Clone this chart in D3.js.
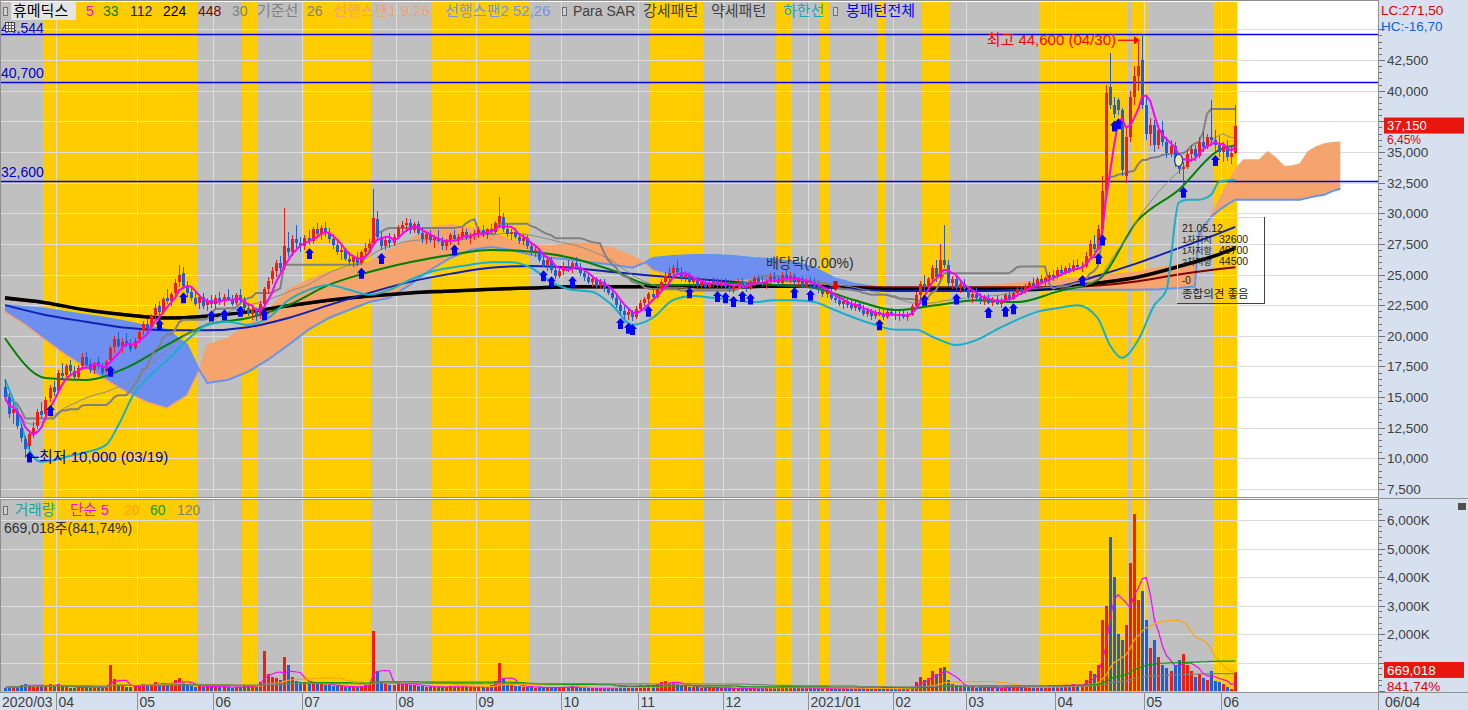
<!DOCTYPE html>
<html lang="ko">
<head>
<meta charset="UTF-8">
<title>휴메딕스 일봉</title>
<script src="https://d3js.org/d3.v7.min.js"></script>
<style>
  body { margin: 0; background: #ffffff; overflow: hidden; }
  svg { display: block; font-family: "Liberation Sans", "Noto Sans CJK KR", sans-serif; }
</style>
</head>
<body>
<script>
// ---------- data (prices in units of 100 won, volume in 1,000 shares) ----------
var monthLabels = ["2020/03","04","05","06","07","08","09","10","11","12","2021/01","02","03","04","05","06"];
var monthStart  = [0,13,33,52,74,97,117,138,157,178,199,220,238,260,282,301];
var lastDate = "06/04";

var open = [158,150,137,139,125,116,110,121,126,139,136,149,158,
155,170,168,176,171,166,175,183,177,172,179,175,171,180,191,197,192,196,193,190,
197,204,210,207,217,224,219,231,228,235,244,251,241,236,231,227,232,225,229,
226,231,228,232,230,227,233,229,223,218,221,216,226,238,246,253,259,256,272,268,279,276,
273,280,277,287,283,288,284,279,274,268,270,263,260,264,259,268,272,276,295,281,273,278,276,
281,288,290,292,286,291,284,279,283,278,280,277,273,277,282,279,281,285,280,282,
284,286,283,287,285,292,297,287,283,285,281,277,280,273,268,270,262,258,262,254,249,
253,257,255,259,256,251,248,244,246,241,244,238,235,231,225,220,217,219,215,
222,227,230,234,232,238,244,249,251,255,252,247,250,244,246,241,244,240,243,245,241,
244,240,238,241,244,241,239,243,247,244,242,245,248,246,243,250,247,249,244,246,241,
245,243,240,237,234,236,231,229,226,228,225,223,226,221,218,220,216,219,218,215,219,
217,216,218,215,217,224,233,242,240,246,255,248,262,258,243,246,239,242,
238,232,234,231,228,231,227,230,226,229,233,230,235,238,236,240,243,241,246,244,247,250,
248,254,251,255,253,258,256,257,265,275,271,287,318,403,388,392,384,330,362,395,412,425,
388,365,372,356,368,358,349,355,342,336,338,348,352,347,358,354,362,360,356,
350,355,346,349];
var high = [165,153,145,141,128,118,122,130,140,146,150,160,163,
172,178,177,180,175,176,186,187,181,179,183,178,180,192,200,203,198,202,197,198,
205,212,214,218,226,228,232,238,236,246,258,256,245,240,236,234,235,231,233,
233,236,234,238,233,235,238,232,227,224,223,228,240,248,256,262,265,304,285,282,290,281,
282,286,289,292,290,293,288,283,278,273,272,268,266,268,270,276,279,320,302,285,281,284,283,
290,294,296,295,293,294,288,285,286,282,286,281,279,284,286,283,288,287,284,286,
289,290,288,291,294,313,300,291,287,288,284,283,282,276,274,272,267,265,264,258,256,
260,262,261,264,259,254,252,249,248,246,246,242,239,234,228,224,222,221,224,
229,232,236,238,240,246,252,256,258,262,256,253,252,248,249,246,247,245,248,247,246,
247,244,243,246,247,244,245,249,250,248,246,251,252,249,252,254,252,251,248,249,247,
248,247,244,241,239,238,235,233,230,231,229,228,228,225,223,222,221,224,222,221,223,
222,220,221,219,226,236,245,250,248,258,262,275,290,262,249,250,245,246,
241,236,239,235,233,234,232,233,231,235,236,237,240,241,242,245,247,248,250,249,252,254,
256,258,257,259,262,263,260,268,278,282,290,330,405,431,395,394,386,370,400,420,440,446,
395,378,376,372,375,362,360,358,348,342,352,356,356,362,366,365,392,368,363,
358,360,354,388];
var low = [147,133,128,124,113,100,108,117,124,133,134,146,151,
153,165,166,168,164,164,172,174,170,169,173,168,170,178,186,190,186,191,187,188,
194,201,203,205,214,216,218,226,224,232,240,238,232,228,224,222,222,220,223,
222,225,224,228,224,225,227,221,216,213,212,214,224,234,242,248,250,254,264,265,272,268,
270,274,275,280,278,281,276,271,266,262,261,257,256,257,258,264,268,274,278,270,270,272,273,
279,284,285,283,284,282,276,275,276,272,276,270,270,274,277,274,278,278,275,278,
280,281,279,283,284,288,285,281,278,279,275,274,271,266,264,260,256,253,251,246,247,
250,252,251,254,249,245,242,240,239,238,236,233,229,223,217,214,213,212,214,
220,224,227,229,230,236,241,245,247,250,245,244,242,240,239,238,239,237,240,239,239,
238,236,235,238,239,236,237,241,242,240,238,243,243,241,242,245,243,242,240,239,240,
240,238,235,232,231,229,227,224,222,223,221,220,219,216,215,213,214,216,213,214,216,
213,212,214,212,216,222,230,236,237,244,244,246,255,240,238,237,235,236,
230,227,229,226,225,226,224,225,223,227,228,229,232,233,234,237,238,240,242,241,244,245,
246,249,250,251,252,254,252,255,263,268,270,285,316,385,378,380,330,325,358,388,400,385,
360,355,350,352,355,345,346,338,332,324,336,342,343,345,350,352,355,350,346,
342,343,340,348];
var close = [150,136,140,126,117,108,120,125,138,135,148,157,154,
170,167,175,171,166,174,183,176,172,178,175,170,179,190,197,192,195,193,189,196,
203,210,206,216,223,219,230,228,234,243,250,241,235,231,226,232,224,229,226,
231,228,232,230,226,233,229,223,218,221,215,226,238,245,253,259,255,273,268,279,276,273,
280,277,287,283,288,284,279,274,268,270,263,260,264,259,268,272,275,296,281,273,278,276,281,
288,290,292,286,291,284,279,283,278,280,277,273,277,282,279,281,285,280,282,284,
286,283,287,285,292,298,287,283,285,281,277,280,273,268,270,262,258,262,254,249,253,
257,255,259,256,251,248,244,246,241,244,238,235,231,225,220,217,219,215,222,
227,230,234,232,238,244,249,251,255,252,247,250,244,246,241,244,240,243,245,241,244,
240,238,241,244,241,239,243,247,244,242,245,248,246,243,250,247,249,244,246,241,245,
243,240,237,234,236,231,229,226,228,225,223,226,221,218,220,216,219,218,215,219,217,
216,218,215,217,224,233,242,240,246,255,248,262,258,243,246,239,242,238,
232,234,231,228,231,227,230,226,229,233,230,235,238,236,240,243,241,246,244,247,250,248,
254,251,255,253,258,256,257,265,275,271,287,318,398,388,381,384,335,362,395,412,420,388,
365,372,356,368,358,349,355,342,336,338,348,352,347,358,354,362,360,356,350,
355,346,349,371.5];
var volume = [120,150,180,140,200,260,220,150,180,210,160,230,170,
250,160,140,120,110,130,180,150,110,100,120,95,140,900,420,220,180,150,130,170,
200,260,180,220,300,240,280,220,260,380,450,300,200,170,150,180,140,160,150,
160,140,150,130,120,140,150,160,170,180,150,300,1400,600,500,450,380,1200,900,500,350,300,
320,280,300,250,260,220,200,180,170,160,150,140,150,140,170,200,250,2100,700,300,250,200,220,
300,260,280,220,200,180,170,150,140,130,150,140,130,160,150,140,170,150,130,140,
160,150,170,200,350,1000,450,250,200,180,160,150,140,130,120,130,120,110,120,130,110,
150,140,160,130,120,110,100,95,100,90,95,100,110,150,180,160,130,120,170,
200,180,220,170,250,300,350,280,320,260,200,170,150,140,130,120,110,120,130,110,100,
100,95,90,100,110,95,90,120,150,110,100,130,120,110,180,140,130,100,110,90,100,
110,100,95,90,100,85,90,80,85,90,80,85,90,80,75,80,85,80,75,90,85,
80,85,75,80,150,300,500,400,450,700,600,800,850,400,250,200,180,150,
150,130,120,140,110,100,120,110,100,130,120,140,160,130,150,170,140,160,150,170,200,180,
220,180,200,190,250,210,200,400,700,600,900,2500,3000,5400,4000,2000,1800,2300,4500,6200,3200,3500,
2500,1500,1800,1200,900,800,700,900,1100,1300,900,700,500,600,450,400,700,350,300,
250,150,79.48,669.018];

// long moving averages (every 10 sessions), won
var maIdx  = [0,10,20,30,40,50,60,70,80,90,100,110,120,130,140,150,160,170,180,190,200,210,220,230,240,250,260,270,280,290,300,304];
var ma33   = [19800,16550,16400,17400,19250,20900,21450,22500,24150,25200,26000,26600,27000,26850,26350,25350,24150,24150,24300,24150,23900,22900,22100,22500,22900,22750,23600,24550,29450,31900,35150,35550];
var ma112  = [22500,21700,21150,20650,20450,20450,20700,21450,22500,23500,24400,25050,25550,25700,25550,25200,24900,24650,24400,24150,24000,23800,23650,23650,23650,23750,24000,24900,25950,27150,28350,28880];
var ma224  = [23100,22700,22100,21700,21450,21600,21950,22450,22900,23250,23500,23650,23800,23900,24000,24000,24000,24000,24000,24050,24050,23900,23750,23750,23750,23750,23900,24300,24800,25650,26650,27150];
var ma448  = [23000,22650,22100,21750,21500,21650,21950,22400,22850,23200,23450,23600,23750,23850,23950,23950,23950,23950,23950,24000,24050,24000,23950,23950,23950,23950,23950,24100,24450,25000,25450,25600];

// ichimoku leading spans (already shifted 26 sessions forward), won
var cloudIdx = [0,5,10,15,20,25,30,35,40,45,48,50,55,60,65,70,75,80,85,90,95,100,105,110,115,120,125,130,135,140,145,150,155,158,160,165,170,175,180,185,190,195,200,205,210,215,220,225,230,235,240,245,250,255,260,265,270,275,280,285,290,293,294,295,298,300,302,304,306,310,312,314,316,318,320,322,324,326,328,330];
var span1 = [21950,20900,19650,18450,17400,16400,15400,14600,14100,15150,17200,19250,19800,20900,22100,23750,24550,25200,25550,26000,27000,27800,28800,29050,28800,28450,27800,27400,27350,27550,27500,27150,26500,25950,25350,24900,24700,24550,24450,24550,24400,24400,24250,24150,24050,23900,23900,23750,23750,23800,24000,24150,24300,24400,24550,24700,24900,25050,25200,25550,25800,26000,26100,27800,29850,31100,32300,33550,34350,34350,35000,34500,33800,33850,34000,35000,35400,35650,35750,35800];
var span2 = [22500,22350,22200,21950,21700,21450,21150,20800,20500,19250,17200,16150,16400,17050,18050,19250,20500,21450,22100,22750,23100,24150,25350,26350,27000,27250,27000,26600,26350,26200,26000,25800,25550,25950,26350,26500,26600,26600,26500,26350,26250,26000,25550,24700,24250,24000,23800,23800,23750,23750,23750,23750,23750,23750,23750,23750,23750,23750,23750,23800,23900,24000,24000,28400,29700,30250,30700,31100,31100,31100,31100,31100,31100,31100,31100,31250,31400,31500,31800,32000];

// 하한선 (lower band), won
var lowerIdx = [0,3,6,9,12,16,20,25,28,32,36,40,45,50,55,60,65,70,75,80,85,90,95,100,105,110,115,120,125,130,135,140,145,150,155,160,165,170,175,180,185,190,195,200,205,210,215,220,225,230,235,240,245,250,255,260,265,270,273,276,280,284,287,290,292,295,298,300,304];
var lowerVal = [16400,13950,10700,9700,9850,10200,10500,11100,12700,15350,16800,18000,19650,20900,21150,20900,21450,22900,23750,24150,23750,23350,23750,24550,25200,25550,25800,26000,26000,25550,24400,23750,23600,22500,20900,21450,22900,23250,23100,22900,22750,22900,22900,22750,22100,21450,20900,20500,20500,19800,19250,19650,20500,21300,21950,22250,22500,21450,19250,18200,19650,22500,23750,30850,31100,31100,31500,32550,32700];

// background pattern bands (yellow) as session ranges; everything else up to the last session is gray
var yellowBands = [[10,47],[59,62],[74,90],[106,129],[160,172],[191,194],[202,203],[216,217],[227,233],[256,277],[279,282],[299,304]];

// pattern markers
var bullIdx = [6,11,26,38,44,51,54,58,64,75,88,93,111,133,135,140,152,154,155,159,169,176,178,180,182,184,195,199,216,227,235,243,247,249,266,270,271,274,275,291,299];
var exDivIdx = 205;
var circleIdx = 290, circlePrice = 34300;

var levels = [44600, 40700, 32600];
var lowPoint = {idx: 5, price: 10000, date: "03/19"};
var highPoint = {idx: 281, price: 44600, date: "04/30"};
var priceTicks = [7500,10000,12500,15000,17500,20000,22500,25000,27500,30000,32500,35000,37500,40000,42500,45000];
var volTicks = [1000,2000,3000,4000,5000,6000];
var infoRows = [["21.05.12",""],["1차지지","32600"],["1차저항","40700"],["2차저항","44500"]];

// ---------- layout ----------
var W = 1468, H = 710;
var plotRight = 1378;
var priceTop = 2, priceBottom = 497, volTop = 500, volBottom = 692;
var step = 4.047;
var upColor = "#f01d10", downColor = "#1c5fd6";

var x = d3.scaleLinear().domain([0, 304]).range([5, 5 + 304 * step]);
var y = d3.scaleLinear().domain([7500, 42500]).range([489, 60]);
var yv = d3.scaleLinear().domain([0, 6000]).range([691, 520]);

var n = close.length;
var candles = d3.range(n).map(function(i) {
    return {i: i, o: open[i] * 100, h: high[i] * 100, l: low[i] * 100, c: close[i] * 100, v: volume[i]};
});
var closeW = candles.map(function(d) { return d.c; });

function movingAvg(arr, len) {
    return arr.map(function(v, i) { return d3.mean(arr.slice(Math.max(0, i - len + 1), i + 1)); });
}
function midRange(len) {
    return candles.map(function(d, i) {
        var s = candles.slice(Math.max(0, i - len + 1), i + 1);
        return (d3.max(s, function(e) { return e.h; }) + d3.min(s, function(e) { return e.l; })) / 2;
    });
}
var ma5 = movingAvg(closeW, 5);
var ma30 = movingAvg(closeW, 30);
var base26 = midRange(26);

var svg = d3.select("body").append("svg").attr("width", W).attr("height", H);
var defs = svg.append("defs");
defs.append("clipPath").attr("id", "priceClip").append("rect")
    .attr("x", 0).attr("y", priceTop).attr("width", plotRight).attr("height", priceBottom - priceTop);
defs.append("clipPath").attr("id", "volClip").append("rect")
    .attr("x", 0).attr("y", volTop).attr("width", plotRight).attr("height", volBottom - volTop);

svg.append("rect").attr("width", W).attr("height", H).attr("fill", "#ffffff");

// background bands in both panels
var bandRight = x(n - 1) + step / 2;
[[priceTop, priceBottom], [volTop, volBottom]].forEach(function(p) {
    svg.append("rect").attr("x", 0).attr("y", p[0]).attr("width", bandRight).attr("height", p[1] - p[0])
        .attr("fill", "#c0c0c0");
    svg.selectAll(null).data(yellowBands).enter().append("rect")
        .attr("x", function(d) { return x(d[0]) - step / 2; })
        .attr("width", function(d) { return x(d[1]) - x(d[0]) + step; })
        .attr("y", p[0]).attr("height", p[1] - p[0])
        .attr("fill", "#ffcc00").attr("shape-rendering", "crispEdges");
});

// grid
var grid = svg.append("g").attr("stroke", "#dcdcdc").attr("stroke-width", 1).attr("shape-rendering", "crispEdges");
priceTicks.forEach(function(t) {
    grid.append("line").attr("x1", 0).attr("x2", plotRight).attr("y1", Math.round(y(t)) + 0.5).attr("y2", Math.round(y(t)) + 0.5);
});
volTicks.forEach(function(t) {
    grid.append("line").attr("x1", 0).attr("x2", plotRight).attr("y1", Math.round(yv(t)) + 0.5).attr("y2", Math.round(yv(t)) + 0.5);
});
monthStart.slice(1).forEach(function(m) {
    var gx = Math.round(x(m) - step / 2) + 0.5;
    grid.append("line").attr("x1", gx).attr("x2", gx).attr("y1", priceTop).attr("y2", priceBottom);
    grid.append("line").attr("x1", gx).attr("x2", gx).attr("y1", volTop).attr("y2", volBottom);
});

// ---------- price panel ----------
var gp = svg.append("g").attr("clip-path", "url(#priceClip)");

// ichimoku cloud
var cloud = cloudIdx.map(function(d, k) { return {i: d, s1: span1[k], s2: span2[k]}; });
var band = d3.area().x(function(d) { return x(d.i); })
    .y0(function(d) { return y(d.s2); }).y1(function(d) { return y(d.s1); });
defs.append("clipPath").attr("id", "aboveS2").append("path")
    .attr("d", d3.area().x(function(d) { return x(d.i); }).y0(0).y1(function(d) { return y(d.s2); })(cloud));
defs.append("clipPath").attr("id", "belowS2").append("path")
    .attr("d", d3.area().x(function(d) { return x(d.i); }).y0(function(d) { return y(d.s2); }).y1(H)(cloud));
gp.append("path").attr("d", band(cloud)).attr("fill", "#f5a46e").attr("clip-path", "url(#aboveS2)");
gp.append("path").attr("d", band(cloud)).attr("fill", "#6f8ff0").attr("clip-path", "url(#belowS2)");
gp.append("path").datum(cloud)
    .attr("d", d3.line().x(function(d) { return x(d.i); }).y(function(d) { return y(d.s1); }))
    .attr("fill", "none").attr("stroke", "#f5a46e").attr("stroke-width", 1.5);
gp.append("path").datum(cloud)
    .attr("d", d3.line().x(function(d) { return x(d.i); }).y(function(d) { return y(d.s2); }))
    .attr("fill", "none").attr("stroke", "#6495ed").attr("stroke-width", 2);

// support / resistance levels
levels.forEach(function(l) {
    var ly = Math.round(y(l)) + 0.5;
    gp.append("line").attr("x1", 0).attr("x2", plotRight).attr("y1", ly).attr("y2", ly)
        .attr("stroke", "#0000ee").attr("stroke-width", 1.3);
});
levels.slice(1).forEach(function(l) {
    svg.append("text").attr("x", 1).attr("y", y(l) - 4).attr("font-size", 14).attr("fill", "#0000c8")
        .text(d3.format(",")(l));
});

function sampledLine(idx, vals) {
    return idx.map(function(d, k) { return {i: d, v: vals[k]}; });
}
var smooth = d3.line().curve(d3.curveMonotoneX)
    .x(function(d) { return x(d.i); }).y(function(d) { return y(d.v); });
var straight = d3.line().x(function(d, i) { return x(i); }).y(function(d) { return y(d); });

function drawSampled(idx, vals, color, w) {
    gp.append("path").attr("d", smooth(sampledLine(idx, vals)))
        .attr("fill", "none").attr("stroke", color).attr("stroke-width", w).attr("stroke-linejoin", "round");
}
drawSampled(maIdx, ma448, "#800000", 2);
drawSampled(maIdx, ma224, "#000000", 3.5);
drawSampled(maIdx, ma112, "#1020b0", 2);
drawSampled(maIdx, ma33, "#008000", 2);
gp.append("path").attr("d", straight(ma30)).attr("fill", "none").attr("stroke", "#8a8a8a").attr("stroke-width", 1);
gp.append("path").attr("d", straight(base26)).attr("fill", "none").attr("stroke", "#808080").attr("stroke-width", 2);
drawSampled(lowerIdx, lowerVal, "#18b0c8", 2);

// candles
var gc = gp.append("g").attr("shape-rendering", "crispEdges");
gc.selectAll("line").data(candles).enter().append("line")
    .attr("x1", function(d) { return Math.round(x(d.i)) + 0.5; })
    .attr("x2", function(d) { return Math.round(x(d.i)) + 0.5; })
    .attr("y1", function(d) { return y(d.h); })
    .attr("y2", function(d) { return y(d.l); })
    .attr("stroke", function(d) { return d.c >= d.o ? upColor : downColor; });
gc.selectAll("rect").data(candles).enter().append("rect")
    .attr("x", function(d) { return Math.round(x(d.i)) - 1; })
    .attr("width", 3)
    .attr("y", function(d) { return Math.min(y(d.o), y(d.c)); })
    .attr("height", function(d) { return Math.max(1, Math.abs(y(d.o) - y(d.c))); })
    .attr("fill", function(d) { return d.c >= d.o ? upColor : downColor; });

gp.append("path").attr("d", straight(ma5)).attr("fill", "none").attr("stroke", "#ff00ff").attr("stroke-width", 2);

// bullish pattern arrows
function upArrow(cx, top) {
    return "M" + cx + "," + top + "l4.5,5h-2v6h-5v-6h-2z";
}
gp.selectAll("path.bull").data(bullIdx).enter().append("path").attr("class", "bull")
    .attr("d", function(i) { return upArrow(Math.round(x(i)) + 0.5, y(candles[i].l) + 3); })
    .attr("fill", "#0000ff");

// ex-dividend marker
gp.append("path")
    .attr("d", "M" + (Math.round(x(exDivIdx)) + 0.5) + "," + (y(candles[exDivIdx].h) - 2) + "l-4,-5h2v-5h4v5h2z")
    .attr("fill", "#e00000");
gp.append("text").attr("x", x(exDivIdx) + 19).attr("y", 268).attr("text-anchor", "end")
    .attr("font-size", 14).attr("fill", "#303030").text("배당락(0.00%)");

// pattern circle
gp.append("ellipse").attr("cx", x(circleIdx)).attr("cy", y(circlePrice)).attr("rx", 4).attr("ry", 6)
    .attr("fill", "#e6f0a0").attr("stroke", "#1030c0").attr("stroke-width", 1.2);

// low / high annotations
var lx = Math.round(x(lowPoint.idx)) + 2, lyy = y(lowPoint.price) - 1;
gp.append("line").attr("x1", lx + 2).attr("x2", lx + 12).attr("y1", lyy).attr("y2", lyy).attr("stroke", "#0000c0").attr("stroke-width", 1.3);
gp.append("path").attr("d", "M" + lx + "," + lyy + "l5,-4v8z").attr("fill", "#0000c0");
gp.append("text").attr("x", lx + 12).attr("y", lyy + 5).attr("font-size", 15).attr("fill", "#0000c0")
    .text("최저 " + d3.format(",")(lowPoint.price) + " (" + lowPoint.date + ")");

var hx = Math.round(x(highPoint.idx)) - 2, hy = y(highPoint.price) + 6;
gp.append("line").attr("x1", hx - 22).attr("x2", hx - 4).attr("y1", hy).attr("y2", hy).attr("stroke", "#ff0000").attr("stroke-width", 1.3);
gp.append("path").attr("d", "M" + hx + "," + hy + "l-6,-4v8z").attr("fill", "#ff0000");
gp.append("text").attr("x", hx - 24).attr("y", hy + 5).attr("text-anchor", "end").attr("font-size", 15).attr("fill", "#ff0000")
    .text("최고 " + d3.format(",")(highPoint.price) + " (" + highPoint.date + ")");

// info box
var bx = 1177, by = 217, bw = 87, bh = 86;
svg.append("path").attr("d", "M" + bx + "," + (by + bh) + "V" + by + "H" + (bx + bw))
    .attr("fill", "none").attr("stroke", "#d8d8d8").attr("shape-rendering", "crispEdges");
svg.append("path").attr("d", "M" + (bx + bw) + "," + by + "V" + (by + bh) + "H" + bx)
    .attr("fill", "none").attr("stroke", "#404040").attr("shape-rendering", "crispEdges");
var boxText = svg.append("g").attr("fill", "#202020");
infoRows.forEach(function(r, k) {
    boxText.append("text").attr("x", bx + 5).attr("y", by + 15 + k * 11).attr("font-size", k === 0 ? 10.5 : 9)
        .text(r[0]);
    if (r[1]) boxText.append("text").attr("x", bx + 42).attr("y", by + 15 + k * 11).attr("font-size", 10.5)
        .text(r[1]);
});
boxText.append("text").attr("x", bx + 5).attr("y", by + 67).attr("font-size", 10).text("-0");
boxText.append("text").attr("x", bx + 5).attr("y", by + 81).attr("font-size", 11.5).text("종합의견  좋음");

// ---------- volume panel ----------
var gv = svg.append("g").attr("clip-path", "url(#volClip)");
gv.selectAll("rect").data(candles).enter().append("rect")
    .attr("x", function(d) { return Math.round(x(d.i)) - 1; })
    .attr("width", 3)
    .attr("y", function(d) { return yv(d.v); })
    .attr("height", function(d) { return Math.max(1, yv(0) - yv(d.v)); })
    .attr("fill", function(d) { return d.c >= d.o ? upColor : downColor; })
    .attr("shape-rendering", "crispEdges");
var volLine = d3.line().x(function(d, i) { return x(i); }).y(function(d) { return yv(d); });
[[5, "#ff00ff"], [20, "#ffa500"], [60, "#00a000"], [120, "#808080"]].forEach(function(m) {
    gv.append("path").attr("d", volLine(movingAvg(volume, m[0])))
        .attr("fill", "none").attr("stroke", m[1]).attr("stroke-width", 1.2);
});

// ---------- frames ----------
var frame = svg.append("g").attr("fill", "none").attr("stroke", "#909090").attr("shape-rendering", "crispEdges");
frame.append("rect").attr("x", 0.5).attr("y", 0.5).attr("width", plotRight).attr("height", priceBottom);
frame.append("rect").attr("x", 0.5).attr("y", volTop - 0.5).attr("width", plotRight).attr("height", volBottom - volTop + 1);

// right axis panel
svg.append("rect").attr("x", plotRight + 1).attr("y", 0).attr("width", W - plotRight - 1).attr("height", H).attr("fill", "#d6e0ee");
svg.append("rect").attr("x", 0).attr("y", volBottom + 1).attr("width", W).attr("height", H - volBottom - 1).attr("fill", "#d6e0ee");
svg.append("line").attr("x1", plotRight + 0.5).attr("x2", plotRight + 0.5).attr("y1", 0).attr("y2", H).attr("stroke", "#909090");
svg.append("line").attr("x1", 0).attr("x2", W).attr("y1", volBottom + 0.5).attr("y2", volBottom + 0.5).attr("stroke", "#909090");
svg.append("line").attr("x1", plotRight).attr("x2", W).attr("y1", priceBottom + 1.5).attr("y2", priceBottom + 1.5).attr("stroke", "#909090");

var lastC = candles[n - 1], prevC = candles[n - 2];
var pct = (lastC.c / prevC.c - 1) * 100;
var tagY = y(lastC.c);
var vTagY = yv(lastC.v) - 2;
var vPct = lastC.v / prevC.v * 100;

var axis = svg.append("g").attr("shape-rendering", "crispEdges");
d3.range(7500, 45001, 500).forEach(function(t) {
    var ty = Math.round(y(t)) + 0.5;
    if (ty < 3) return;
    axis.append("line").attr("x1", plotRight + 1).attr("x2", plotRight + (t % 2500 === 0 ? 7 : 4))
        .attr("y1", ty).attr("y2", ty).attr("stroke", "#707070");
});
d3.range(0, 6401, 200).forEach(function(t) {
    var ty = Math.round(yv(t)) + 0.5;
    if (ty < volTop + 2) return;
    axis.append("line").attr("x1", plotRight + 1).attr("x2", plotRight + (t % 1000 === 0 ? 7 : 4))
        .attr("y1", ty).attr("y2", ty).attr("stroke", "#707070");
});

// last-value tags (boxes first, texts on top)
svg.append("rect").attr("x", plotRight + 6).attr("y", tagY - 8).attr("width", 80).attr("height", 16).attr("fill", "#e8160c");
svg.append("rect").attr("x", plotRight + 6).attr("y", vTagY - 8).attr("width", 80).attr("height", 16).attr("fill", "#e8160c");
svg.append("rect").attr("x", 1458).attr("y", 503).attr("width", 8).attr("height", 7).attr("fill", "#505050");

// labels hidden behind the header and the last-value tags are left out
var axText = svg.append("g");
priceTicks.forEach(function(t) {
    if (y(t) < 40 || Math.abs(y(t) - tagY) < 12) return;
    axText.append("text").attr("x", plotRight + 9).attr("y", y(t) + 5).attr("font-size", 13.5).attr("fill", "#404040")
        .text(d3.format(",")(t));
});
volTicks.forEach(function(t) {
    if (Math.abs(yv(t) - vTagY) < 12) return;
    axText.append("text").attr("x", plotRight + 9).attr("y", yv(t) + 5).attr("font-size", 13.5).attr("fill", "#404040")
        .text(d3.format(",")(t) + "K");
});
axText.append("text").attr("x", plotRight + 3).attr("y", 15).attr("font-size", 13.5).attr("fill", "#e00000").text("LC:271,50");
axText.append("text").attr("x", plotRight + 3).attr("y", 31).attr("font-size", 13.5).attr("fill", "#1060e0").text("HC:-16,70");
axText.append("text").attr("x", plotRight + 9).attr("y", tagY + 4.5).attr("font-size", 13).attr("fill", "#ffffff")
    .text(d3.format(",")(lastC.c));
axText.append("text").attr("x", plotRight + 9).attr("y", tagY + 18.5).attr("font-size", 12).attr("fill", "#e00000")
    .text(pct.toFixed(2).replace(".", ",") + "%");
axText.append("text").attr("x", plotRight + 9).attr("y", vTagY + 5).attr("font-size", 13.5).attr("fill", "#ffffff")
    .text(d3.format(",")(Math.round(lastC.v * 1000)));
axText.append("text").attr("x", plotRight + 9).attr("y", vTagY + 21).attr("font-size", 13.5).attr("fill", "#e00000")
    .text(vPct.toFixed(2).replace(".", ",") + "%");

// bottom date axis
monthStart.forEach(function(m, k) {
    var mx = k === 0 ? 0 : Math.round(x(m) - step / 2) + 0.5;
    if (k > 0) svg.append("line").attr("x1", mx).attr("x2", mx).attr("y1", volBottom + 1).attr("y2", H)
        .attr("stroke", "#909090");
    svg.append("text").attr("x", mx + 2).attr("y", 707).attr("font-size", 14).attr("fill", "#404040").text(monthLabels[k]);
});
svg.append("text").attr("x", plotRight + 7).attr("y", 707).attr("font-size", 14).attr("fill", "#404040").text(lastDate);

// ---------- legends ----------
function icon(ix, iy) {
    svg.append("rect").attr("x", ix + 0.5).attr("y", iy + 0.5).attr("width", 4).attr("height", 8)
        .attr("fill", "#d0d0d0").attr("stroke", "#707070").attr("shape-rendering", "crispEdges");
}
icon(3, 7);
svg.append("rect").attr("x", 11).attr("y", 2).attr("width", 65).attr("height", 18).attr("fill", "#e4e4e4");
var legendTop = [
    ["휴메딕스", "#000000", 13, 15], ["5", "#ff00ff", 86, 14], ["33", "#008000", 103, 14], ["112", "#1020b0", 130, 14],
    ["224", "#000000", 163, 14], ["448", "#800000", 198, 14], ["30", "#808080", 232, 14], ["기준선", "#808080", 257, 15],
    ["26", "#808080", 307, 14], ["선행스팬1 9,26", "#f5a070", 333, 15], ["선행스팬2 52,26", "#6e96f0", 445, 15],
    ["Para SAR", "#404040", 573, 14], ["강세패턴", "#404040", 643, 15], ["약세패턴", "#404040", 711, 15],
    ["하한선", "#10a8b8", 783, 15], ["봉패턴전체", "#0000ff", 846, 15]
];
legendTop.forEach(function(l) {
    svg.append("text").attr("x", l[2]).attr("y", 16).attr("font-size", l[3]).attr("fill", l[1]).text(l[0]);
});
icon(562, 7);
icon(833, 7);

svg.append("text").attr("x", 1).attr("y", 33).attr("font-size", 14).attr("fill", "#0000c8").text("44,544");
svg.append("rect").attr("x", 5.5).attr("y", 22.5).attr("width", 9).attr("height", 9).attr("fill", "#f0f0f0").attr("stroke", "#404040");
svg.append("path").attr("d", "M6,25.5h8M6,28.5h8M8.5,23v8M11.5,23v8").attr("stroke", "#606060").attr("stroke-width", 1);

icon(3, 506);
var legendVol = [["거래량", "#20a0a0", 15, 14.5], ["단순 5", "#ff00ff", 70, 14.5], ["20", "#ffa500", 124, 14], ["60", "#00a000", 150, 14], ["120", "#808080", 177, 14]];
legendVol.forEach(function(l) {
    svg.append("text").attr("x", l[2]).attr("y", 515).attr("font-size", l[3]).attr("fill", l[1]).text(l[0]);
});
svg.append("text").attr("x", 4).attr("y", 533).attr("font-size", 14).attr("fill", "#303030")
    .text(d3.format(",")(Math.round(lastC.v * 1000)) + "주(" + vPct.toFixed(2).replace(".", ",") + "%)");
</script>
</body>
</html>
